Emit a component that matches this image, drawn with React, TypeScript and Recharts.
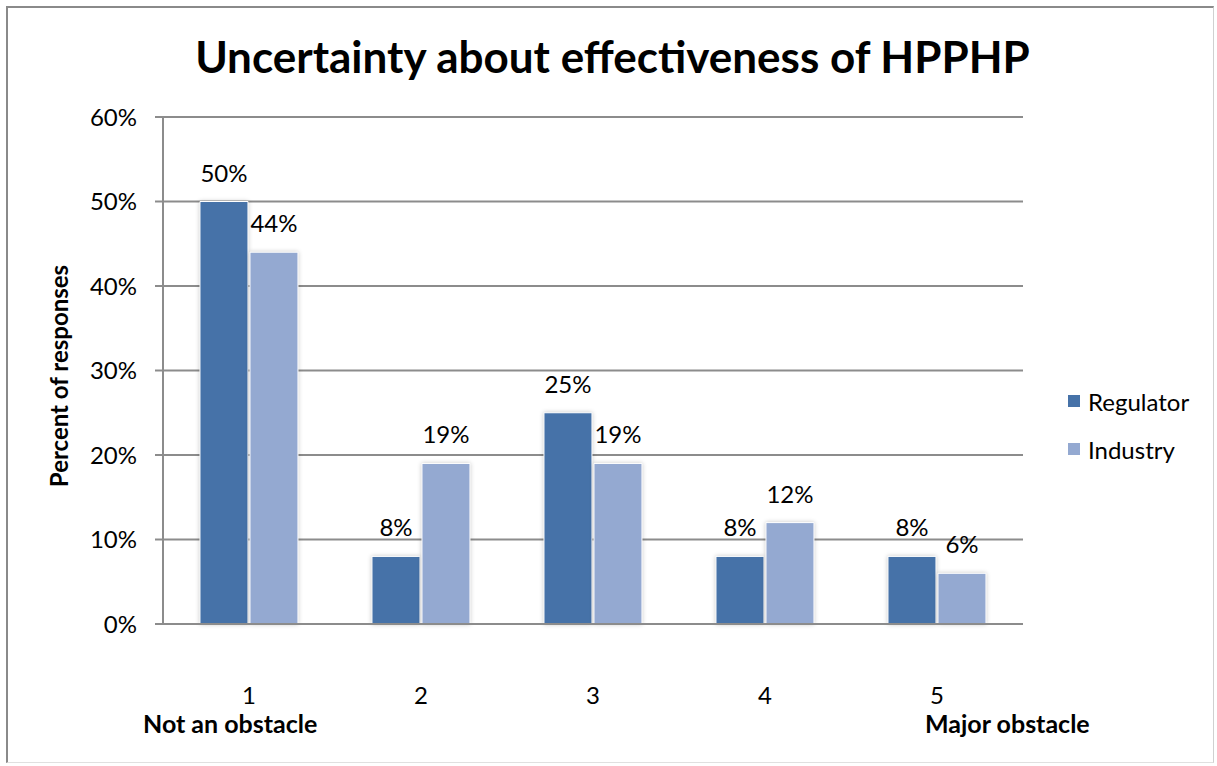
import React from 'react';
import { BarChart, Bar, XAxis, YAxis, CartesianGrid, LabelList } from 'recharts';

const categories = ['1', '2', '3', '4', '5'];
const regulator = [50, 8, 25, 8, 8];
const industry = [44, 19, 19, 12, 6];
const yTicks = [0, 10, 20, 30, 40, 50, 60];
const seriesNames = ['Regulator', 'Industry'];

const data = categories.map((c, i) => ({ name: c, Regulator: regulator[i], Industry: industry[i] }));

const FONT = 'Lato, "Open Sans", sans-serif';
const DARK = '#4672A8';
const LIGHT = '#94A9D1';
const GRID = '#8c8c8c';
const seriesColors = [DARK, LIGHT];
const barShadow = { filter: 'drop-shadow(0px 0px 2px rgba(0,0,0,0.22))' };

export default function App() {
    return (
        <div style={{ position: 'absolute', left: 0, top: 0, width: 1217, height: 766, background: '#fff', fontFamily: FONT }}>
            <div style={{
                position: 'absolute', left: 6, top: 6, width: 1208, height: 757,
                borderLeft: '2px solid #8a8a8a', borderTop: '2px solid #8a8a8a',
                borderRight: '1px solid #d0d0d0', borderBottom: '1px solid #e0e0e0', boxSizing: 'border-box'
            }} />
            <div style={{ position: 'absolute', left: 0, top: 30, width: 1217, textAlign: 'center', fontSize: 44, fontWeight: 700, paddingLeft: 8, boxSizing: 'border-box' }}>
                Uncertainty about effectiveness of HPPHP
            </div>
            <div style={{
                position: 'absolute', left: 58, top: 376, transform: 'translate(-50%, -50%) rotate(-90deg)',
                fontSize: 24, fontWeight: 700, whiteSpace: 'nowrap'
            }}>
                Percent of responses
            </div>
            <div style={{ position: 'absolute', left: 143, top: 711, fontSize: 25, lineHeight: '25px', fontWeight: 700 }}>Not an obstacle</div>
            <div style={{ position: 'absolute', left: 925, top: 711, fontSize: 25, lineHeight: '25px', fontWeight: 700 }}>Major obstacle</div>
            {/* legend kept outside the chart so the plot area is not shrunk */}
            <div style={{ position: 'absolute', left: 1068, top: 377, fontSize: 24 }}>
                {seriesNames.map((s, i) => (
                    <div key={s} style={{ display: 'flex', alignItems: 'center', height: 48 }}>
                        <span style={{ width: 12, height: 12, background: seriesColors[i], marginRight: 8, display: 'inline-block' }} />
                        <span>{s}</span>
                    </div>
                ))}
            </div>
            <div style={{ position: 'absolute', left: 0, top: 0 }}>
                <BarChart
                    width={1217}
                    height={766}
                    data={data}
                    margin={{ top: 117, right: 194, left: 0, bottom: 0 }}
                    barCategoryGap="21.5%"
                    barGap={2}
                >
                    <CartesianGrid vertical={false} stroke={GRID} strokeWidth={2} />
                    <XAxis
                        dataKey="name"
                        height={142}
                        axisLine={{ stroke: GRID, strokeWidth: 2 }}
                        tickLine={false}
                        tickMargin={57}
                        tick={{ fill: '#000', fontSize: 24, fontFamily: FONT }}
                    />
                    <YAxis
                        width={163}
                        domain={[0, 60]}
                        ticks={yTicks}
                        tickFormatter={(v: number) => `${v}%`}
                        axisLine={{ stroke: GRID, strokeWidth: 2 }}
                        tickLine={{ stroke: GRID, strokeWidth: 2 }}
                        tickSize={8}
                        tickMargin={18}
                        tick={{ fill: '#000', fontSize: 24, fontFamily: FONT }}
                    />
                    <Bar dataKey="Regulator" fill={DARK} stroke="#fff" strokeWidth={1} style={barShadow} isAnimationActive={false}>
                        <LabelList dataKey="Regulator" position="top" offset={20} formatter={(v: any) => `${v}%`} style={{ fill: '#000', fontSize: 24, fontFamily: FONT }} />
                    </Bar>
                    <Bar dataKey="Industry" fill={LIGHT} stroke="#fff" strokeWidth={1} style={barShadow} isAnimationActive={false}>
                        <LabelList dataKey="Industry" position="top" offset={20} formatter={(v: any) => `${v}%`} style={{ fill: '#000', fontSize: 24, fontFamily: FONT }} />
                    </Bar>
                </BarChart>
            </div>
        </div>
    );
}
